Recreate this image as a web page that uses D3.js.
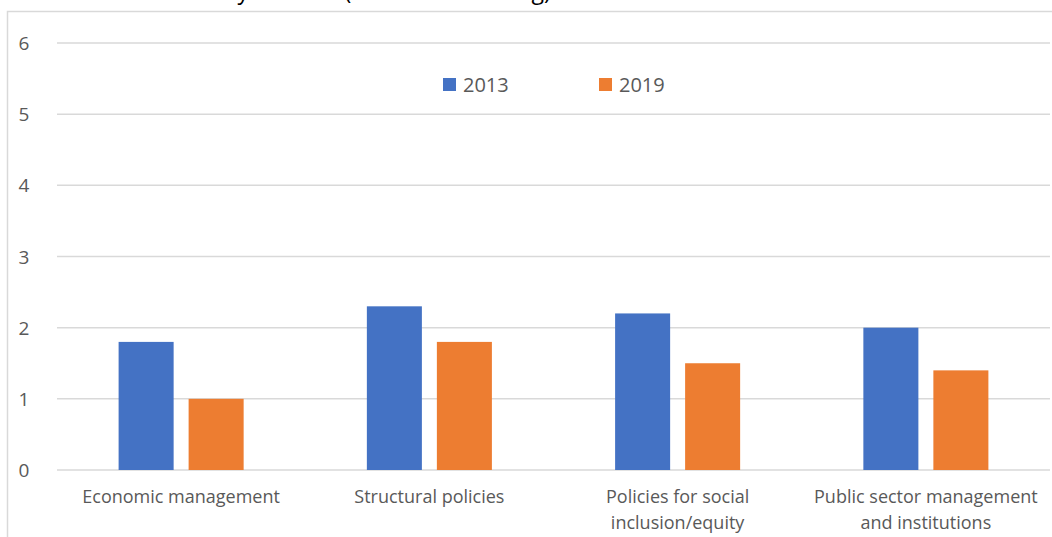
<!DOCTYPE html>
<html>
<head>
<meta charset="utf-8">
<script src="https://cdn.jsdelivr.net/npm/d3@7"></script>
<style>
  body { margin: 0; background: #fff; }
  svg { display: block; font-family: "Open Sans", sans-serif; }
</style>
</head>
<body>
<div id="chart"></div>
<script>
// Data
const categories = [
  ["Economic management"],
  ["Structural policies"],
  ["Policies for social", "inclusion/equity"],
  ["Public sector management", "and institutions"]
];
const seriesNames = ["2013", "2019"];
const values2013 = [1.8, 2.3, 2.2, 2.0];
const values2019 = [1.0, 1.8, 1.5, 1.4];
const yTicks = [0, 1, 2, 3, 4, 5, 6];
const colors = ["#4472c4", "#ed7d31"];

const width = 1052, height = 537;
const plot = { left: 57, right: 1050, top: 43, bottom: 470 };

const svg = d3.select('#chart').append('svg')
  .attr('width', width)
  .attr('height', height);

// title, cut off by the top edge as in the source
svg.append('text')
  .attr('x', 322).attr('y', -1)
  .attr('text-anchor', 'middle')
  .attr('font-size', 23)
  .attr('fill', '#000')
  .text("CPIA scores by clusters (World Bank rating)");

// chart frame
svg.append('path')
  .attr('d', `M7.5,${height} V11.5 H${width}`)
  .attr('fill', 'none')
  .attr('stroke', '#d9d9d9')
  .attr('stroke-width', 1.5);

const x0 = d3.scaleBand()
  .domain(d3.range(categories.length))
  .range([plot.left, plot.right]);

const x1 = d3.scaleBand()
  .domain(seriesNames)
  .range([0, x0.bandwidth()])
  .paddingInner(0.214)
  .paddingOuter(0.88);

const y = d3.scaleLinear()
  .domain([0, 6])
  .range([plot.bottom, plot.top]);

// gridlines
svg.append('g').selectAll('line').data(yTicks).enter().append('line')
  .attr('x1', plot.left).attr('x2', plot.right)
  .attr('y1', d => y(d)).attr('y2', d => y(d))
  .attr('stroke', '#d9d9d9')
  .attr('stroke-width', 1.5);

// y tick labels
svg.append('g').selectAll('text').data(yTicks).enter().append('text')
  .attr('x', 24)
  .attr('y', d => y(d) + 7)
  .attr('text-anchor', 'middle')
  .attr('font-size', 19)
  .attr('fill', '#595959')
  .text(d => d);

// bars
const rows = categories.map((c, i) => ({
  i: i,
  vals: [values2013[i], values2019[i]]
}));

const groups = svg.append('g').selectAll('g').data(rows).enter().append('g')
  .attr('transform', d => `translate(${x0(d.i)},0)`);

groups.selectAll('rect')
  .data(d => d.vals.map((v, k) => ({ series: seriesNames[k], v: v, k: k })))
  .enter().append('rect')
  .attr('x', d => x1(d.series))
  .attr('width', x1.bandwidth())
  .attr('y', d => y(d.v))
  .attr('height', d => y(0) - y(d.v))
  .attr('fill', d => colors[d.k]);

// category labels
const catLabels = svg.append('g').selectAll('text').data(categories).enter().append('text')
  .attr('x', (d, i) => x0(i) + x0.bandwidth() / 2)
  .attr('y', 503)
  .attr('text-anchor', 'middle')
  .attr('font-size', 18)
  .attr('fill', '#595959');

catLabels.selectAll('tspan').data(d => d).enter().append('tspan')
  .attr('x', function() { return d3.select(this.parentNode).attr('x'); })
  .attr('dy', (d, i) => i === 0 ? 0 : 26)
  .text(d => d);

// legend
const legendX = [443, 599];
const legend = svg.append('g').selectAll('g').data(seriesNames).enter().append('g')
  .attr('transform', (d, i) => `translate(${legendX[i]},78)`);
legend.append('rect')
  .attr('width', 13).attr('height', 13)
  .attr('fill', (d, i) => colors[i]);
legend.append('text')
  .attr('x', 20).attr('y', 14)
  .attr('font-size', 20)
  .attr('fill', '#595959')
  .text(d => d);
</script>
</body>
</html>
